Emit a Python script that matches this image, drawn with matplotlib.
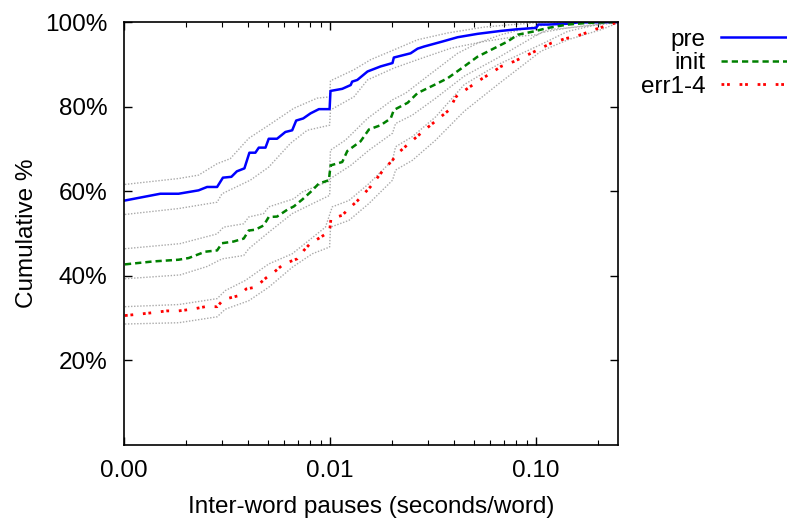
import matplotlib
matplotlib.use("Agg")
import matplotlib.pyplot as plt
from matplotlib.ticker import FixedLocator, LogLocator, NullFormatter

plt.rcParams['font.family'] = ['Liberation Sans', 'DejaVu Sans']

# pre: cumulative % vs inter-word pause (seconds/word)
pre_x = [0.00101, 0.0015, 0.00184, 0.0023, 0.00253, 0.00283, 0.00302, 0.00332, 0.00353, 0.00384,
         0.00406, 0.00434, 0.00451, 0.00486, 0.00504, 0.00553, 0.00607, 0.00655, 0.00685, 0.00741,
         0.00804, 0.00883, 0.00995, 0.01005, 0.01146, 0.0126, 0.0128, 0.01356, 0.0152, 0.0176,
         0.0201, 0.0204, 0.0246, 0.0266, 0.0286, 0.0352, 0.0416, 0.052, 0.0676, 0.0815,
         0.1, 0.1026, 0.114, 0.1426, 0.1596, 0.25]
pre_y = [57.8, 59.4, 59.4, 60.2, 61.0, 61.0, 63.2, 63.4, 64.7, 65.4,
         69.1, 69.1, 70.3, 70.3, 72.4, 72.4, 74.0, 74.4, 76.7, 77.2,
         78.4, 79.4, 79.4, 83.7, 84.2, 85.1, 85.9, 86.3, 88.3, 89.5,
         90.3, 91.6, 92.6, 93.7, 94.2, 95.4, 96.4, 97.2, 97.9, 98.3,
         98.6, 99.4, 99.4, 99.6, 99.9, 100.0]
pre_up_x = [0.00101, 0.00184, 0.0023, 0.00283, 0.00328, 0.00403, 0.00504, 0.00667, 0.00866, 0.00995,
            0.01005, 0.01305, 0.01574, 0.0204, 0.0266, 0.03718, 0.05603, 0.0815, 0.1057, 0.1426, 0.25]
pre_up_y = [61.6, 63.0, 63.8, 66.5, 67.7, 72.5, 75.6, 79.6, 82.0, 82.3,
            86.1, 88.7, 91.1, 93.4, 95.8, 97.4, 98.8, 99.5, 99.9, 100.0, 100.0]
pre_lo_x = [0.00101, 0.00184, 0.00283, 0.00299, 0.0041, 0.00504, 0.00642, 0.00774, 0.00995, 0.01005,
            0.01305, 0.0152, 0.0204, 0.0266, 0.03859, 0.05603, 0.0815, 0.1019, 0.114, 0.1426, 0.2072, 0.25]
pre_lo_y = [54.5, 55.9, 57.4, 59.4, 62.6, 65.7, 71.3, 74.4, 75.6, 79.2,
            82.3, 86.3, 89.1, 91.1, 93.8, 95.4, 96.6, 97.0, 98.2, 98.6, 99.4, 99.9]

# init
init_x = [0.00101, 0.00139, 0.00184, 0.00206, 0.00248, 0.00283, 0.00299, 0.0034, 0.00381, 0.00403,
          0.00434, 0.00476, 0.00504, 0.00553, 0.00619, 0.00667, 0.00732, 0.00804, 0.00882, 0.00987,
          0.01006, 0.01146, 0.01213, 0.01407, 0.01545, 0.0176, 0.0197, 0.0204, 0.0238, 0.0266,
          0.032, 0.0372, 0.0448, 0.052, 0.0627, 0.0728, 0.0815, 0.0982, 0.114, 0.1426, 0.1786, 0.25]
init_y = [42.7, 43.4, 43.8, 44.2, 45.7, 46.0, 47.7, 48.1, 48.8, 50.7,
          50.9, 51.9, 53.9, 54.0, 55.6, 56.4, 58.0, 59.8, 61.8, 62.6,
          66.1, 66.9, 69.5, 71.8, 74.6, 75.6, 77.2, 79.2, 80.9, 83.2,
          85.1, 86.7, 89.5, 91.8, 93.8, 95.4, 97.0, 97.8, 98.6, 99.4, 99.8, 100.0]
init_up_x = [0.00101, 0.00187, 0.00283, 0.00304, 0.00381, 0.00403, 0.00476, 0.00504, 0.00667, 0.00732,
             0.00967, 0.0099, 0.01005, 0.0119, 0.0152, 0.0201, 0.0233, 0.0303, 0.0416, 0.052,
             0.0676, 0.0911, 0.114, 0.1426, 0.2072, 0.25]
init_up_y = [46.4, 47.6, 49.9, 51.5, 52.3, 53.9, 54.7, 56.3, 58.2, 59.8,
             62.2, 62.3, 69.7, 72.1, 77.2, 81.6, 83.2, 87.5, 92.6, 95.0,
             97.0, 98.6, 99.4, 99.8, 100.0, 100.0]
init_lo_x = [0.00101, 0.00187, 0.00253, 0.00299, 0.00381, 0.00403, 0.00504, 0.00655, 0.0085, 0.00995,
             0.01005, 0.0126, 0.01545, 0.0201, 0.0208, 0.0251, 0.0326, 0.0448, 0.0651, 0.1057,
             0.1426, 0.2072, 0.25]
init_lo_y = [39.3, 40.2, 42.2, 44.0, 44.8, 46.4, 50.3, 54.7, 57.4, 59.0,
             63.0, 66.1, 69.7, 73.7, 76.0, 78.0, 82.0, 87.2, 91.5, 97.5,
             98.6, 99.6, 100.0]

# err1-4
err_x = [0.00101, 0.00122, 0.00139, 0.00161, 0.00184, 0.00214, 0.00248, 0.00283, 0.00304, 0.0036,
         0.00392, 0.00434, 0.00489, 0.00533, 0.00596, 0.00692, 0.00746, 0.00804, 0.00899, 0.00995,
         0.0101, 0.01146, 0.01235, 0.01356, 0.01574, 0.01827, 0.02008, 0.02123, 0.02418, 0.02915,
         0.032, 0.03785, 0.0408, 0.04651, 0.05503, 0.0604, 0.0676, 0.0784, 0.0981, 0.1183,
         0.1373, 0.1656, 0.1921, 0.25]
err_y = [30.6, 31.0, 31.3, 31.7, 31.7, 32.1, 32.7, 32.7, 34.4, 35.3,
         36.9, 37.3, 39.5, 40.8, 42.8, 44.0, 46.0, 47.7, 49.1, 50.5,
         53.5, 54.3, 55.9, 57.7, 61.1, 65.2, 67.3, 68.9, 71.3, 74.7,
         76.3, 79.2, 82.3, 84.3, 86.7, 87.9, 89.5, 90.7, 93.0, 95.0,
         96.0, 97.0, 98.2, 100.0]
err_up_x = [0.00101, 0.00184, 0.00283, 0.0031, 0.00388, 0.00504, 0.00655, 0.0095, 0.01025, 0.01235,
            0.01545, 0.0201, 0.0208, 0.0251, 0.0326, 0.0448, 0.0651, 0.1057, 0.1426, 0.2072, 0.25]
err_up_y = [32.7, 33.2, 34.6, 36.5, 38.9, 42.8, 45.2, 51.5, 56.3, 57.8,
            61.8, 67.3, 70.5, 72.9, 77.6, 85.2, 89.9, 94.7, 97.8, 99.6, 100.0]
err_lo_x = [0.00101, 0.00184, 0.00283, 0.0031, 0.00403, 0.00504, 0.00655, 0.0082, 0.00995, 0.01005,
            0.01235, 0.01545, 0.0201, 0.0208, 0.0251, 0.0326, 0.0448, 0.0651, 0.1057, 0.1426,
            0.2072, 0.25]
err_lo_y = [28.6, 28.9, 30.3, 32.1, 34.1, 37.3, 42.0, 45.2, 46.8, 51.5,
            53.1, 57.1, 62.6, 65.0, 67.3, 72.1, 78.9, 85.2, 93.1, 95.8,
            98.2, 99.8]

x_ticks = [0.001, 0.01, 0.1]
x_tick_labels = ["0.00", "0.01", "0.10"]
y_ticks = [20, 40, 60, 80, 100]
y_tick_labels = ["20%", "40%", "60%", "80%", "100%"]

FS = 17.5

fig = plt.figure(figsize=(7.87, 5.19), dpi=100)
ax = fig.add_axes([0.1576, 0.1426, 0.6277, 0.815])

band_style = dict(color='#aaaaaa', lw=1.0, ls=(0, (1, 1.2)))
for bx, by in [(pre_up_x, pre_up_y), (pre_lo_x, pre_lo_y),
               (init_up_x, init_up_y), (init_lo_x, init_lo_y),
               (err_up_x, err_up_y), (err_lo_x, err_lo_y)]:
    ax.plot(bx, by, **band_style)

ax.plot(pre_x, pre_y, color='#0000ff', lw=1.8, ls='-', label='pre')
ax.plot(init_x, init_y, color='#008000', lw=1.8, ls=(0, (2.5, 1.6)), label='init')
ax.plot(err_x, err_y, color='#ff0000', lw=2.0, ls=(0, (1, 1, 1, 3.5)), label='err1-4')

ax.set_xscale('log')
ax.set_xlim(0.001, 0.25)
ax.set_ylim(0, 100)
ax.xaxis.set_major_locator(FixedLocator(x_ticks))
ax.set_xticklabels(x_tick_labels)
ax.xaxis.set_minor_locator(LogLocator(base=10, subs=range(2, 10)))
ax.xaxis.set_minor_formatter(NullFormatter())
ax.set_yticks(y_ticks)
ax.set_yticklabels(y_tick_labels)
ax.tick_params(which='both', direction='in', top=True, right=True, labelsize=FS)
ax.tick_params(which='major', length=6, width=1)
ax.tick_params(which='minor', length=3.5, width=0.8)
ax.tick_params(axis='y', pad=12)
ax.tick_params(axis='x', pad=11)
for s in ax.spines.values():
    s.set_linewidth(1.2)

ax.set_xlabel("Inter-word pauses (seconds/word)", fontsize=FS, labelpad=10)
ax.set_ylabel("Cumulative %", fontsize=FS, labelpad=5)

fig.legend(loc='upper right', bbox_to_anchor=(1.0, 0.945), frameon=False, fontsize=FS,
           markerfirst=False, handlelength=2.7, handletextpad=0.65, labelspacing=0.06,
           borderpad=0, borderaxespad=0)

fig.savefig("out.png", dpi=100)
